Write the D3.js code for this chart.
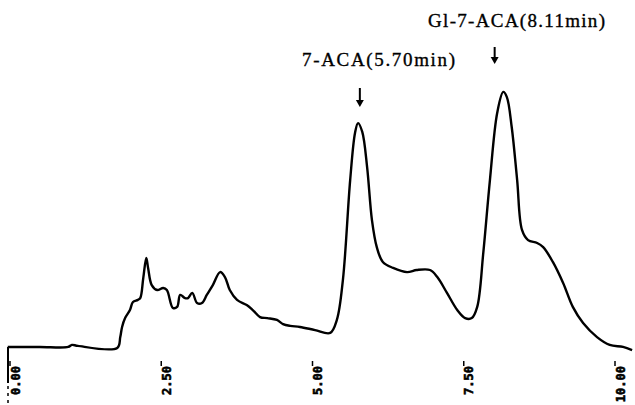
<!DOCTYPE html>
<html>
<head>
<meta charset="utf-8">
<script src="https://d3js.org/d3.v7.min.js"></script>
<style>
  body { margin: 0; background: #fff; }
  svg { display: block; }
</style>
</head>
<body>
<div id="chart"></div>
<script>
// Retention time (min) and detector response (arbitrary units)
const times = [
  -0.12, 0.41, 0.88, 0.94, 1.04, 1.69, 1.74, 1.77, 1.82, 1.90,
  1.95, 2.03, 2.07, 2.12, 2.17, 2.20, 2.26, 2.35, 2.45, 2.51,
  2.61, 2.68, 2.73, 2.81, 2.86, 2.93, 3.01, 3.09, 3.17, 3.27,
  3.39, 3.47, 3.55, 3.67, 3.83, 3.93, 4.05, 4.17, 4.33, 4.43,
  4.55, 4.71, 4.96, 5.21, 5.32, 5.42, 5.54, 5.62, 5.67, 5.74,
  5.82, 5.90, 5.98, 6.08, 6.25, 6.48, 6.64, 6.86, 6.98, 7.14,
  7.31, 7.44, 7.55, 7.64, 7.74, 7.85, 7.97, 8.07, 8.13, 8.21,
  8.30, 8.38, 8.48, 8.63, 8.73, 8.89, 9.06, 9.22, 9.39, 9.62,
  9.83, 10.05, 10.20
];
const signal = [
  0.4, 0.4, 0.4, 1.2, 0.8, 0.0, 4.2, 8.1, 11.5, 14.6,
  17.7, 18.5, 19.2, 26.9, 34.6, 30.8, 24.2, 22.3, 23.1, 22.3,
  15.4, 15.8, 20.4, 19.2, 19.2, 21.2, 17.3, 17.3, 20.4, 24.2,
  29.2, 27.3, 22.3, 18.5, 16.5, 14.6, 11.9, 11.5, 10.8, 9.2,
  8.5, 8.1, 6.9, 5.8, 10.8, 26.2, 64.6, 82.7, 86.5, 83.1,
  69.6, 49.2, 38.8, 33.1, 30.8, 29.2, 30.0, 30.0, 27.3, 21.2,
  14.6, 11.5, 11.5, 15.8, 36.5, 64.6, 90.4, 98.5, 96.5, 85.0,
  64.6, 45.4, 41.5, 40.4, 38.8, 33.1, 25.0, 15.8, 9.6, 4.2,
  1.2, 0.4, -0.8
];
const tickValues = [0, 2.5, 5, 7.5, 10];
const tickLabels = ["0.00", "2.50", "5.00", "7.50", "10.00"];
const peakNames = ["7-ACA(5.70min)", "Gl-7-ACA(8.11min)"];
const peakTimes = [5.70, 8.11];

const width = 635;
const height = 405;

const x = d3.scaleLinear().domain([0, 10]).range([15, 620]);
const y = d3.scaleLinear().domain([0, 100]).range([348, 88]);

const svg = d3.select("#chart").append("svg")
    .attr("width", width)
    .attr("height", height)
    .attr("viewBox", [0, 0, width, height]);

const data = times.map((t, i) => ({ t, v: signal[i] }));

// Left frame line
svg.append("line")
    .attr("x1", 8).attr("x2", 8)
    .attr("y1", y(0) - 1).attr("y2", 383)
    .attr("stroke", "#000").attr("stroke-width", 2);
svg.append("line")
    .attr("x1", 8).attr("x2", 8)
    .attr("y1", 386).attr("y2", 405)
    .attr("stroke", "#000").attr("stroke-width", 1.5)
    .attr("stroke-dasharray", "3,4");

// Chromatogram trace
const line = d3.line()
    .x(d => x(d.t))
    .y(d => y(d.v))
    .curve(d3.curveCatmullRom.alpha(0.5));

svg.append("path")
    .datum(data)
    .attr("fill", "none")
    .attr("stroke", "#000")
    .attr("stroke-width", 2.4)
    .attr("stroke-linejoin", "round")
    .attr("d", line);

// Rotated time labels
const ticks = svg.append("g")
  .selectAll("g")
  .data(tickValues)
  .join("g")
    .attr("transform", d => `translate(${x(d)},366)`);

ticks.append("line")
    .attr("x1", -5).attr("x2", -5)
    .attr("y1", -5).attr("y2", 0)
    .attr("stroke", "#000").attr("stroke-width", 1.5);

ticks.append("text")
    .attr("transform", "rotate(-90)")
    .attr("text-anchor", "end")
    .attr("dy", "0.38em")
    .attr("font-family", "DejaVu Sans Mono, monospace")
    .attr("font-weight", "bold")
    .attr("font-size", 12)
    .attr("stroke", "#000")
    .attr("stroke-width", 0.6)
    .text((d, i) => tickLabels[i]);

// Peak annotations
const labelPos = [
  { tx: 302, ty: 66, len: 153, ax: x(peakTimes[0]), a1: 88, a2: 107 },
  { tx: 428, ty: 27, len: 177, ax: x(peakTimes[1]) - 11, a1: 47, a2: 64 }
];

const ann = svg.append("g")
  .selectAll("g")
  .data(peakNames)
  .join("g");

ann.append("text")
    .attr("x", (d, i) => labelPos[i].tx)
    .attr("y", (d, i) => labelPos[i].ty)
    .attr("textLength", (d, i) => labelPos[i].len)
    .attr("lengthAdjust", "spacing")
    .attr("font-family", "Liberation Serif, serif")
    .attr("font-size", 19)
    .attr("fill", "#000")
    .attr("stroke", "#000")
    .attr("stroke-width", 0.35)
    .text(d => d);

ann.append("line")
    .attr("x1", (d, i) => labelPos[i].ax)
    .attr("x2", (d, i) => labelPos[i].ax)
    .attr("y1", (d, i) => labelPos[i].a1)
    .attr("y2", (d, i) => labelPos[i].a2 - 3)
    .attr("stroke", "#000").attr("stroke-width", 2);

ann.append("path")
    .attr("d", (d, i) => {
      const p = labelPos[i];
      return `M${p.ax - 4},${p.a2 - 7} L${p.ax + 4},${p.a2 - 7} L${p.ax},${p.a2} Z`;
    })
    .attr("fill", "#000");
</script>
</body>
</html>
